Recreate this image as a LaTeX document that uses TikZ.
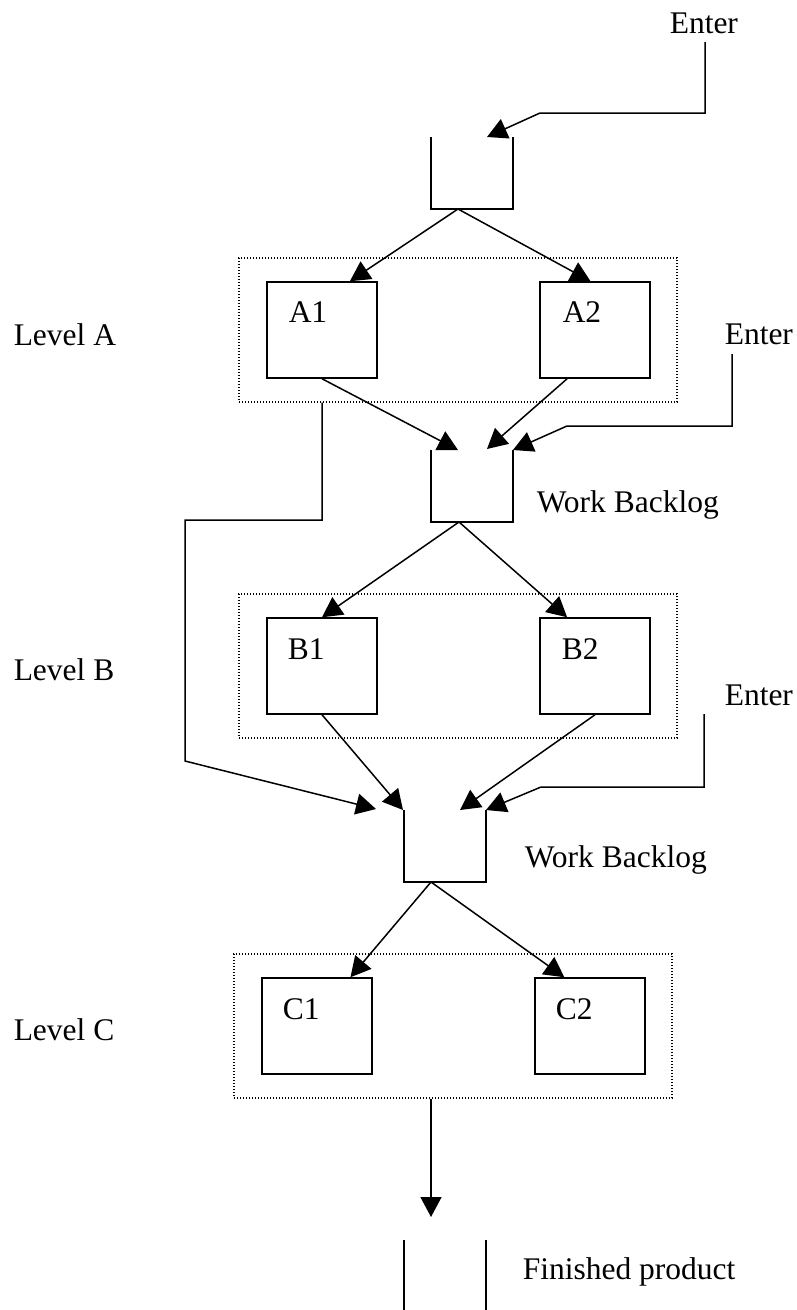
\documentclass[tikz,border=0pt]{standalone}
\usepackage{fontspec}
\setmainfont{Liberation Serif}
\usetikzlibrary{arrows.meta,calc}
\begin{document}
\begin{tikzpicture}[x=1pt,y=-1pt,
  line width=1.5pt,
  flow/.style={-{Triangle[length=20pt,width=21pt]}},
  unit/.style={draw,line width=1.5pt,minimum width=110pt,minimum height=96pt,inner sep=0pt},
  group/.style={draw,dash pattern=on 1.2pt off 1.8pt,line width=1.2pt,inner sep=0pt},
  txt/.style={font=\fontsize{31.5}{36}\selectfont,inner sep=0pt,anchor=base west},
]
\useasboundingbox (0,0) rectangle (797,1310);

% level frames
\node[group,minimum width=438pt,minimum height=144pt] (grpA) at (458,330) {};
\node[group,minimum width=438pt,minimum height=144pt] (grpB) at (458,666) {};
\node[group,minimum width=438pt,minimum height=144pt] (grpC) at (453,1026) {};

% work stations
\node[unit] (A1) at (322,330) {};
\node[unit] (A2) at (595,330) {};
\node[unit] (B1) at (322,666) {};
\node[unit] (B2) at (595,666) {};
\node[unit] (C1) at (317,1026) {};
\node[unit] (C2) at (590,1026) {};

% station labels
\node[txt] (lA1) at (288,322) {A1};
\node[txt] (lA2) at (562,322) {A2};
\node[txt] (lB1) at (287,659) {B1};
\node[txt] (lB2) at (561,659) {B2};
\node[txt] (lC1) at (282,1019) {C1};
\node[txt] (lC2) at (555,1019) {C2};

% level names
\node[txt] (levA) at (13,345) {Level A};
\node[txt] (levB) at (13,680) {Level B};
\node[txt] (levC) at (13,1040) {Level C};

% other labels
\node[txt] (ent1) at (669,33) {Enter};
\node[txt] (ent2) at (724,344) {Enter};
\node[txt] (ent3) at (724,705) {Enter};
\node[txt] (wb1) at (536,512) {Work Backlog};
\node[txt] (wb2) at (524,867) {Work Backlog};
\node[txt] (fin) at (522,1279) {Finished product};

% entry queue
\coordinate (q1tl) at (431,137); \coordinate (q1bl) at (431,209);
\coordinate (q1br) at (513,209); \coordinate (q1tr) at (513,137);
\coordinate (q1out) at (458,209);
\coordinate (q1in) at (487,137);
\draw (q1tl) -- (q1bl) -- (q1br) -- (q1tr);

% backlog between A and B
\coordinate (q2tl) at (431,450); \coordinate (q2bl) at (431,522);
\coordinate (q2br) at (513,522); \coordinate (q2tr) at (513,450);
\coordinate (q2out) at (459,522);
\coordinate (q2inA) at (458,450); \coordinate (q2inB) at (487,449);
\draw (q2tl) -- (q2bl) -- (q2br) -- (q2tr);

% backlog between B and C
\coordinate (q3tl) at (404,810); \coordinate (q3bl) at (404,882);
\coordinate (q3br) at (486,882); \coordinate (q3tr) at (486,810);
\coordinate (q3out) at (431,882);
\coordinate (q3inX) at (376,809); \coordinate (q3inA) at (403,810);
\coordinate (q3inB) at (460,810);
\draw (q3tl) -- (q3bl) -- (q3br) -- (q3tr);

% finished product store
\coordinate (q4tl) at (404,1240); \coordinate (q4bl) at (404,1310);
\coordinate (q4tr) at (486,1240); \coordinate (q4br) at (486,1310);
\draw (q4tl) -- (q4bl);
\draw (q4tr) -- (q4br);

% external entries
\coordinate (e1a) at (705,42); \coordinate (e1b) at (705,113); \coordinate (e1c) at (540,113);
\draw[flow] (e1a) -- (e1b) -- (e1c) -- (q1in);
\coordinate (e2a) at (732,354); \coordinate (e2b) at (732,426); \coordinate (e2c) at (567,426);
\draw[flow] (e2a) -- (e2b) -- (e2c) -- (q2tr);
\coordinate (e3a) at (704,714); \coordinate (e3b) at (704,787); \coordinate (e3c) at (541,787);
\draw[flow] (e3a) -- (e3b) -- (e3c) -- (q3tr);

% queue to stations
\draw[flow] (q1out) -- ($(A1.north west)!0.75!(A1.north east)$);
\draw[flow] (q1out) -- ($(A2.north west)!0.46!(A2.north east)$);
\draw[flow] (q2out) -- (B1.north);
\draw[flow] (q2out) -- ($(B2.north west)!0.25!(B2.north east)$);
\draw[flow] (q3out) -- ($(C1.north west)!0.8!(C1.north east)$);
\draw[flow] (q3out) -- ($(C2.north west)!0.27!(C2.north east)$);

% stations to backlogs
\draw[flow] (A1.south) -- (q2inA);
\draw[flow] ($(A2.south west)!0.25!(A2.south east)$) -- (q2inB);
\draw[flow] (B1.south) -- (q3inA);
\draw[flow] (B2.south) -- (q3inB);

% bypass from level A straight to the second backlog
\coordinate (byp0) at (A1.south |- grpA.south);
\coordinate (byp1) at (322,520); \coordinate (byp2) at (185,520); \coordinate (byp3) at (185,761);
\draw[flow] (byp0) -- (byp1) -- (byp2) -- (byp3) -- (q3inX);

% output of level C
\coordinate (outC) at (q3out |- grpC.south);
\coordinate (outEnd) at (431,1217);
\draw[flow] (outC) -- (outEnd);
\end{tikzpicture}
\end{document}
